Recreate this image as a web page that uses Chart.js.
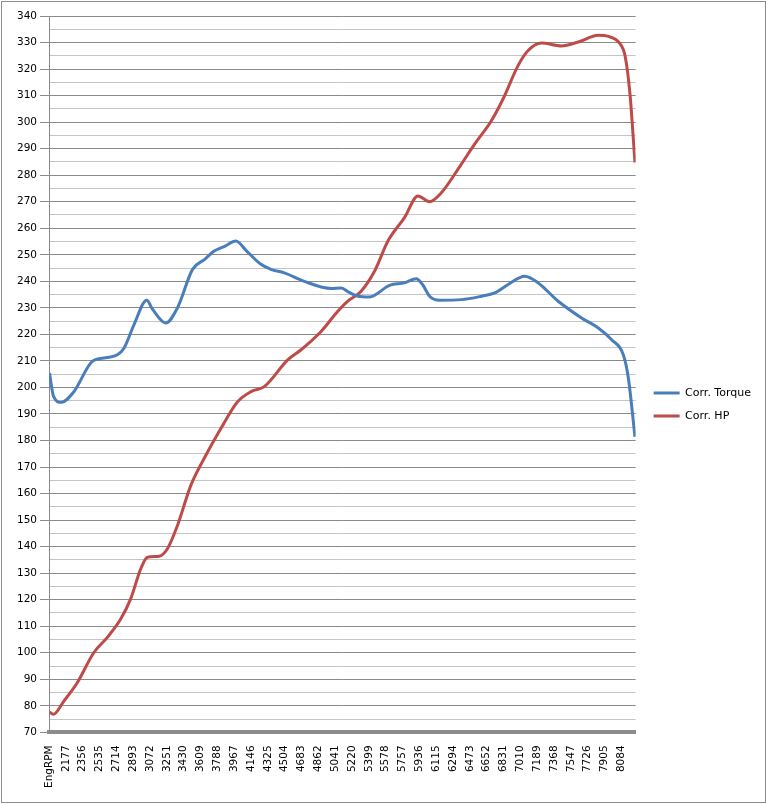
<!DOCTYPE html>
<html>
<head>
<meta charset="utf-8">
<script src="https://cdn.jsdelivr.net/npm/chart.js@4.4.1/dist/chart.umd.min.js"></script>
<style>
  html, body { margin: 0; padding: 0; background: #fff; }
  #wrap { position: relative; width: 767px; height: 804px; }
  #frame { position: absolute; left: 1px; top: 1px; width: 763px; height: 800px; border: 1px solid #8c8c8c; pointer-events: none; }
</style>
</head>
<body>
<div id="wrap">
  <canvas id="dyno" width="767" height="804"></canvas>
  <div id="frame"></div>
</div>
<script>
// x tick labels (first category is the header cell)
const xTickLabels = ['EngRPM', '2177', '2356', '2535', '2714', '2893', '3072', '3251', '3430', '3609',
    '3788', '3967', '4146', '4325', '4504', '4683', '4862', '5041', '5220', '5399', '5578', '5757',
    '5936', '6115', '6294', '6473', '6652', '6831', '7010', '7189', '7368', '7547', '7726', '7905', '8084'];
const xTickStep = 179;
const xStart = 2177 - xTickStep;
const xEnd = 8236;

// Corr. Torque readings
const torqueRpm = [2003, 2046, 2128, 2262, 2458, 2600, 2725, 2795, 2902, 3037, 3100, 3239, 3364, 3524,
    3650, 3754, 3870, 3985, 4100, 4251, 4358, 4500, 4713, 4997, 5104, 5190, 5282, 5405, 5619, 5778,
    5903, 5970, 6045, 6151, 6383, 6600, 6737, 6880, 7057, 7200, 7413, 7661, 7839, 7981, 8105, 8159, 8229];
const torqueValues = [205.4, 196.6, 194.4, 198.4, 209.8, 211.2, 212.3, 214.8, 223.7, 232.9, 229.4, 224.3,
    230.0, 244.5, 248.2, 251.4, 253.3, 255.2, 251.4, 246.4, 244.5, 243.2, 240.0, 237.3, 237.5, 235.8,
    234.4, 234.1, 238.5, 239.4, 241.0, 238.8, 234.4, 232.9, 233.1, 234.4, 235.6, 238.8, 241.9, 239.4,
    232.5, 226.2, 222.4, 218.0, 212.3, 203.5, 181.4];

// Corr. HP readings
const hpRpm = [2003, 2043, 2156, 2298, 2475, 2618, 2760, 2866, 2973, 3044, 3168, 3257, 3364, 3506, 3647,
    3825, 4003, 4150, 4287, 4536, 4678, 4891, 5069, 5175, 5317, 5459, 5602, 5778, 5921, 6045, 6170,
    6383, 6524, 6702, 6827, 6987, 7093, 7235, 7448, 7626, 7839, 7945, 8069, 8123, 8176, 8229];
const hpValues = [77.7, 76.8, 81.8, 88.7, 100.1, 105.8, 112.7, 120.3, 131.6, 136.0, 136.4, 139.2, 148.0,
    163.1, 173.2, 184.5, 194.6, 198.5, 200.3, 210.4, 214.2, 221.1, 228.7, 232.5, 236.3, 243.8, 255.2,
    264.0, 272.2, 270.0, 273.4, 284.2, 291.7, 300.5, 308.8, 321.4, 327.0, 329.8, 328.7, 330.2, 332.7,
    332.3, 329.6, 325.1, 310.6, 284.8];

const yMin = 70;
const yMax = 340;

const FONT = 'DejaVu Sans';

function toPoints(xs, ys) {
    return xs.map((x, i) => ({ x: x, y: ys[i] }));
}

const xTickValues = xTickLabels.map((_, i) => xStart + i * xTickStep);

// nudge the legend a bit away from the plot, like the Excel original
const legendShift = {
    id: 'legendShift',
    afterLayout(chart) {
        if (chart.legend) {
            chart.legend.left += 6;
            chart.legend.right += 6;
        }
    }
};

new Chart(document.getElementById('dyno'), {
    type: 'line',
    data: {
        datasets: [
            {
                label: 'Corr. Torque',
                data: toPoints(torqueRpm, torqueValues),
                borderColor: '#4a7ebb',
                backgroundColor: '#4a7ebb',
                borderWidth: 3,
                pointRadius: 0,
                cubicInterpolationMode: 'monotone'
            },
            {
                label: 'Corr. HP',
                data: toPoints(hpRpm, hpValues),
                borderColor: '#be4b48',
                backgroundColor: '#be4b48',
                borderWidth: 3,
                pointRadius: 0,
                cubicInterpolationMode: 'monotone'
            }
        ]
    },
    plugins: [legendShift],
    options: {
        responsive: false,
        animation: false,
        layout: {
            padding: { top: 16, left: 14, right: 12, bottom: 11 }
        },
        scales: {
            x: {
                type: 'linear',
                min: xStart,
                max: xEnd,
                afterBuildTicks: (axis) => {
                    axis.ticks = xTickValues.map(v => ({ value: v }));
                },
                grid: { display: false },
                border: { display: true, color: '#8c8c8c', width: 4 },
                ticks: {
                    autoSkip: false,
                    minRotation: 90,
                    maxRotation: 90,
                    padding: 5,
                    color: '#000',
                    font: { family: FONT, size: 10.5 },
                    callback: (value, index) => xTickLabels[index]
                }
            },
            y: {
                min: yMin,
                max: yMax,
                grid: {
                    color: (ctx) => (ctx.tick && ctx.tick.value % 10 === 0) ? '#8a8a8a' : '#c4c4c4',
                    tickColor: (ctx) => (ctx.tick && ctx.tick.value % 10 === 0) ? '#8a8a8a' : 'rgba(0,0,0,0)',
                    tickLength: 9
                },
                border: { display: true, color: '#8a8a8a', width: 1 },
                ticks: {
                    stepSize: 5,
                    autoSkip: false,
                    padding: 3,
                    color: '#000',
                    font: { family: FONT, size: 10.5 },
                    callback: (value) => value % 10 === 0 ? value : ''
                }
            }
        },
        plugins: {
            legend: {
                position: 'right',
                labels: {
                    usePointStyle: true,
                    pointStyle: 'line',
                    pointStyleWidth: 26,
                    padding: 12,
                    color: '#000',
                    font: { family: FONT, size: 11 }
                }
            },
            tooltip: { enabled: false }
        }
    }
});
</script>
</body>
</html>
